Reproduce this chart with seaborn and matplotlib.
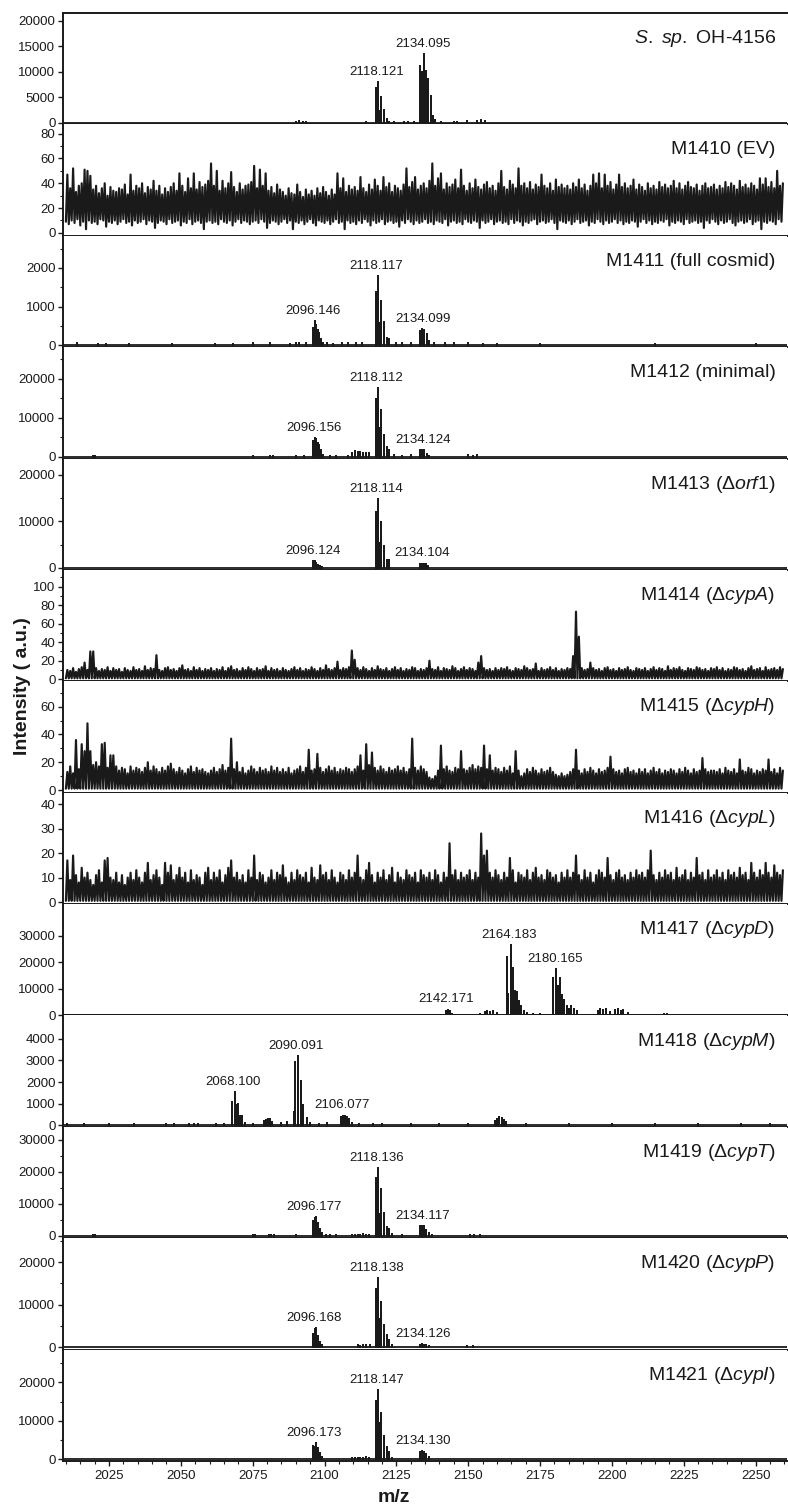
import numpy as np
import matplotlib
matplotlib.use("Agg")
import matplotlib.pyplot as plt
from matplotlib.ticker import MultipleLocator
import seaborn as sns

# ---- data (m/z, intensity) ----
sp_mz = [2090.0, 2091.0, 2092.5, 2093.5, 2114.3, 2117.8, 2118.7, 2119.1, 2119.8, 2120.8,
         2121.7, 2122.6, 2124.0, 2127.5, 2129.0, 2131.0, 2133.3, 2133.9, 2134.6, 2135.4,
         2136.1, 2136.9, 2137.7, 2138.3, 2140.5, 2145.0, 2146.0, 2149.5, 2153.0, 2154.5, 2156.0]
sp_int = [200, 300, 250, 200, 250, 6800, 8000, 2400, 5000, 2500,
          800, 250, 150, 150, 200, 250, 11200, 10000, 13500, 10200,
          8600, 5300, 1400, 500, 200, 250, 200, 300, 400, 500, 300]

m1411_mz = [2014, 2021, 2024, 2032, 2047, 2062, 2068, 2075, 2081, 2088, 2090, 2091, 2093.5,
            2095.9, 2096.6, 2097.1, 2097.7, 2098.0, 2098.8, 2099.5, 2101, 2103, 2106, 2108,
            2111, 2113, 2117.8, 2118.7, 2119.1, 2119.8, 2120.8, 2121.6, 2122.4, 2125, 2127,
            2130, 2133.3, 2133.9, 2134.7, 2135.5, 2136.3, 2138, 2142, 2145, 2150, 2155, 2160,
            2175, 2215, 2250]
m1411_int = [50, 40, 40, 30, 40, 40, 30, 50, 60, 40, 60, 50, 60,
             440, 636, 525, 395, 310, 160, 60, 50, 40, 50, 60,
             50, 70, 1385, 1790, 585, 1145, 594, 180, 170, 60, 50,
             60, 380, 430, 400, 280, 120, 60, 50, 60, 50, 40, 40,
             40, 30, 40]

m1412_mz = [2019.3, 2020.0, 2075.0, 2081.0, 2082.0, 2090.0, 2093.0, 2095.9, 2096.6, 2097.1,
            2097.7, 2098.0, 2098.8, 2099.5, 2102.0, 2104.0, 2108.0, 2109.5, 2110.5, 2111.5,
            2112.5, 2113.5, 2114.5, 2115.5, 2117.8, 2118.7, 2119.1, 2119.8, 2120.8, 2121.6,
            2122.4, 2124.0, 2127.0, 2130.0, 2133.3, 2133.9, 2134.7, 2135.5, 2136.3, 2150.0,
            2151.5, 2153.0]
m1412_int = [300, 250, 200, 250, 200, 200, 300, 4020, 4700, 4450,
             3400, 3000, 1700, 500, 200, 300, 300, 1000, 1500, 1300,
             1100, 1000, 900, 1000, 14700, 17500, 7300, 12000, 5600, 2400,
             1700, 500, 300, 500, 1700, 1800, 1700, 800, 300, 400,
             300, 400]

m1413_mz = [2095.9, 2096.6, 2097.1, 2097.7, 2098.3, 2099.0, 2117.8, 2118.7, 2119.1, 2119.8,
            2120.8, 2121.6, 2122.4, 2133.3, 2133.9, 2134.6, 2135.4, 2136.1]
m1413_int = [1400, 1400, 1000, 600, 300, 150, 12000, 14800, 5300, 9800,
             4700, 1700, 1600, 700, 900, 900, 700, 300]

m1417_mz = [2142.1, 2142.8, 2143.6, 2144.3, 2154.0, 2155.7, 2156.5, 2157.5, 2158.5, 2159.9,
            2163.5, 2164.0, 2164.8, 2165.6, 2166.2, 2166.8, 2167.5, 2168.3, 2169.3, 2170.3,
            2172.5, 2175.0, 2179.6, 2180.4, 2181.1, 2181.9, 2182.6, 2183.3, 2184.2, 2185.0,
            2185.9, 2186.8, 2187.7, 2195.0, 2196.0, 2197.0, 2198.0, 2199.5, 2201.0, 2202.0,
            2203.0, 2204.0, 2205.5, 2218.0, 2219.0]
m1417_int = [1500, 2100, 1400, 600, 500, 1300, 1700, 1200, 1400, 800,
             22200, 8000, 26600, 17800, 9000, 8900, 5200, 3300, 1500, 800,
             400, 500, 14000, 17400, 11000, 14000, 7700, 5800, 3300, 2500,
             3300, 2500, 1500, 1600, 2400, 1800, 2200, 1300, 2000, 2500,
             1500, 1800, 900, 500, 400]

m1418_mz = [2010.4, 2016.3, 2025.0, 2033.8, 2044.9, 2047.7, 2053.0, 2054.5, 2056.0, 2062.4,
            2065.0, 2067.8, 2068.7, 2069.2, 2069.9, 2070.6, 2071.3, 2072.2, 2075.0, 2079.0,
            2079.7, 2080.4, 2081.1, 2081.8, 2085.0, 2087.0, 2089.2, 2089.8, 2090.8, 2091.9,
            2092.6, 2093.8, 2095.0, 2098.0, 2101.0, 2105.8, 2106.5, 2107.2, 2107.9, 2108.6,
            2109.5, 2112.0, 2116.8, 2120.0, 2130.0, 2140.0, 2150.0, 2159.2, 2160.0, 2160.8,
            2161.6, 2162.4, 2163.3, 2170.0, 2185.0, 2200.0, 2215.0, 2230.0, 2245.0, 2255.0]
m1418_int = [60, 50, 40, 60, 50, 60, 70, 80, 60, 70,
             80, 1060, 1550, 940, 985, 430, 430, 100, 80, 200,
             250, 300, 280, 150, 100, 150, 600, 2940, 3200, 2060,
             940, 320, 120, 80, 90, 400, 450, 430, 400, 300,
             100, 80, 80, 60, 50, 60, 50, 200, 300, 400,
             350, 250, 150, 60, 50, 60, 50, 60, 50, 60]

m1419_mz = [2019.5, 2020.2, 2075.0, 2075.7, 2080.5, 2081.5, 2082.5, 2090.0, 2095.9, 2096.6,
            2097.1, 2097.7, 2098.3, 2099.0, 2100.5, 2102.0, 2104.0, 2109.5, 2110.5, 2111.5,
            2112.5, 2113.5, 2114.5, 2115.5, 2117.8, 2118.7, 2119.1, 2119.8, 2120.8, 2121.6,
            2122.4, 2123.5, 2127.0, 2133.3, 2133.9, 2134.6, 2135.4, 2136.2, 2137.5, 2150.5,
            2152.0, 2154.0]
m1419_int = [300, 250, 300, 250, 300, 250, 300, 200, 4800, 5700,
             5800, 4000, 2100, 1000, 400, 300, 300, 300, 400, 350,
             400, 500, 300, 400, 18000, 21200, 7000, 14600, 7100, 2900,
             2200, 500, 300, 3000, 3200, 3100, 2000, 900, 400, 300,
             250, 300]

m1420_mz = [2095.9, 2096.6, 2097.1, 2097.7, 2098.3, 2099.2, 2111.5, 2112.5, 2113.5, 2114.5,
            2115.7, 2117.8, 2118.7, 2119.1, 2119.8, 2120.8, 2121.6, 2122.4, 2123.5, 2133.3,
            2133.9, 2134.6, 2135.4, 2136.2, 2149.5, 2151.5]
m1420_int = [3200, 4200, 4400, 2700, 1250, 400, 400, 350, 400, 400,
             500, 13600, 16200, 6600, 10600, 5200, 2800, 1650, 400, 500,
             700, 600, 500, 300, 300, 300]

m1421_mz = [2095.9, 2096.6, 2097.1, 2097.7, 2098.3, 2099.0, 2109.5, 2110.5, 2111.5, 2112.5,
            2113.5, 2114.5, 2115.5, 2117.8, 2118.7, 2119.1, 2119.8, 2120.8, 2121.6, 2122.4,
            2123.5, 2133.3, 2133.9, 2134.6, 2135.4, 2136.2]
m1421_int = [3450, 3200, 4150, 2850, 1550, 500, 300, 400, 350, 300,
             400, 500, 300, 15200, 18000, 9300, 12100, 6050, 3270, 2000,
             400, 1900, 2100, 2000, 1400, 600]

# noise-only traces: local max / min per 1 m/z bin starting at 2010
NOISE_START = 2010
ev_tops = [
    47, 36, 52, 33, 38, 40, 51, 50, 46, 35, 38, 32, 36, 40, 30, 37, 34, 33, 36, 35, 39, 31, 47, 34, 38,
    36, 40, 32, 37, 35, 42, 34, 38, 31, 36, 33, 37, 40, 34, 48, 38, 33, 44, 36, 48, 35, 41, 37, 39, 42,
    56, 38, 50, 34, 42, 36, 40, 49, 37, 33, 40, 35, 38, 39, 41, 54, 36, 51, 38, 48, 34, 37, 32, 39, 35,
    33, 30, 36, 32, 31, 39, 33, 29, 35, 31, 34, 30, 36, 32, 37, 33, 30, 35, 31, 48, 36, 44, 33, 38, 35,
    37, 34, 45, 36, 33, 39, 35, 43, 38, 34, 45, 37, 40, 33, 38, 36, 34, 39, 52, 37, 41, 45, 35, 38, 40,
    36, 42, 56, 38, 44, 48, 35, 40, 37, 39, 43, 36, 51, 38, 34, 40, 36, 43, 37, 35, 39, 41, 36, 38, 34,
    40, 50, 37, 35, 42, 39, 36, 52, 38, 40, 36, 41, 35, 39, 37, 47, 38, 36, 40, 34, 43, 37, 39, 36, 38,
    35, 40, 37, 43, 36, 39, 34, 38, 47, 40, 48, 36, 47, 38, 41, 35, 39, 47, 37, 40, 36, 38, 43, 35, 39,
    37, 34, 40, 36, 38, 35, 41, 37, 39, 36, 38, 42, 36, 40, 35, 38, 41, 37, 36, 39, 34, 38, 40, 36, 37,
    39, 35, 38, 36, 41, 37, 40, 38, 35, 42, 37, 39, 36, 40, 38, 35, 44, 39, 44, 37, 41, 36, 50, 38, 40]
ev_lows = [
    9, 7, 10, 8, 11, 6, 9, 3, 10, 8, 9, 7, 11, 10, 5, 9, 8, 10, 7, 9, 11, 8, 9, 6, 10,
    8, 9, 11, 7, 10, 9, 4, 8, 10, 9, 7, 11, 8, 9, 10, 6, 9, 8, 11, 7, 9, 10, 8, 3, 9,
    10, 8, 9, 7, 11, 9, 8, 10, 6, 9, 11, 8, 10, 9, 7, 9, 10, 8, 11, 9, 4, 8, 10, 9, 7,
    9, 11, 8, 10, 3, 9, 8, 10, 7, 9, 11, 8, 6, 10, 9, 8, 10, 7, 9, 11, 8, 9, 3, 10, 8,
    9, 7, 10, 8, 11, 9, 6, 10, 8, 9, 11, 7, 9, 10, 8, 9, 5, 10, 8, 11, 9, 7, 10, 8, 9,
    11, 8, 9, 7, 10, 9, 8, 11, 6, 9, 10, 8, 9, 7, 11, 9, 8, 10, 9, 4, 10, 8, 9, 11, 7,
    9, 10, 8, 9, 7, 11, 8, 10, 9, 6, 9, 8, 10, 11, 7, 9, 10, 8, 9, 11, 8, 3, 10, 9, 8,
    10, 7, 9, 11, 8, 9, 10, 6, 9, 8, 11, 9, 7, 10, 8, 9, 11, 8, 10, 7, 9, 8, 10, 9, 5,
    9, 11, 8, 10, 7, 9, 8, 10, 9, 11, 6, 9, 8, 10, 9, 7, 11, 8, 9, 10, 8, 9, 4, 10, 8,
    11, 9, 7, 10, 8, 9, 11, 8, 6, 9, 10, 8, 9, 11, 7, 9, 10, 3, 9, 8, 10, 9, 7, 11, 9]

m1414_tops = [
    10, 9, 12, 8, 11, 13, 18, 10, 30, 30, 12, 9, 11, 10, 13, 9, 12, 10, 11, 8, 12, 10, 9, 13, 10,
    11, 9, 14, 10, 12, 11, 26, 10, 9, 12, 13, 10, 11, 9, 12, 15, 10, 11, 9, 13, 10, 12, 9, 11, 10,
    12, 9, 11, 10, 13, 9, 12, 14, 10, 11, 9, 12, 10, 13, 11, 9, 12, 10, 11, 14, 9, 12, 10, 11, 9,
    12, 10, 9, 11, 13, 10, 12, 9, 11, 10, 13, 11, 9, 12, 10, 15, 11, 10, 12, 19, 10, 12, 11, 13, 31,
    21, 12, 10, 13, 11, 9, 12, 10, 14, 11, 10, 12, 9, 11, 13, 10, 12, 9, 11, 10, 13, 12, 9, 11, 10,
    12, 20, 11, 10, 13, 9, 12, 11, 10, 14, 12, 9, 11, 13, 10, 12, 11, 9, 18, 25, 12, 10, 11, 9, 12,
    10, 12, 11, 13, 10, 9, 12, 11, 10, 14, 12, 10, 11, 17, 9, 12, 10, 11, 13, 10, 12, 9, 11, 10, 12,
    11, 25, 73, 46, 12, 10, 11, 18, 12, 10, 11, 9, 12, 13, 10, 11, 9, 12, 10, 11, 13, 10, 9, 12, 11,
    10, 12, 9, 11, 13, 10, 12, 11, 9, 14, 10, 12, 11, 13, 10, 9, 12, 11, 10, 13, 12, 10, 11, 9, 12,
    11, 13, 10, 12, 9, 11, 10, 13, 12, 10, 11, 9, 12, 14, 10, 11, 12, 9, 13, 10, 11, 12, 10, 13, 11]
m1414_floor = 1

m1415_tops = [
    13, 17, 12, 36, 15, 33, 28, 48, 28, 18, 20, 17, 33, 34, 16, 25, 25, 17, 14, 16, 15, 12, 17, 14, 16,
    15, 13, 16, 20, 14, 17, 15, 13, 16, 14, 17, 19, 15, 13, 16, 14, 12, 15, 17, 13, 16, 14, 15, 13, 12,
    14, 16, 13, 15, 18, 14, 16, 37, 15, 20, 13, 16, 12, 14, 17, 15, 13, 16, 14, 15, 13, 17, 14, 16, 13,
    15, 13, 16, 12, 14, 15, 17, 13, 16, 29, 14, 15, 26, 16, 13, 15, 17, 14, 16, 13, 15, 14, 16, 15, 13,
    15, 17, 25, 14, 33, 18, 27, 16, 14, 17, 15, 13, 16, 14, 15, 17, 14, 16, 13, 15, 37, 16, 14, 17, 15,
    13, 9, 8, 10, 14, 32, 15, 17, 14, 13, 16, 15, 28, 15, 14, 16, 18, 15, 17, 16, 32, 15, 25, 14, 16,
    15, 13, 16, 14, 17, 12, 28, 14, 10, 12, 15, 13, 16, 14, 12, 15, 13, 14, 16, 13, 11, 10, 12, 10, 11,
    13, 15, 29, 14, 12, 15, 13, 16, 14, 12, 15, 13, 14, 16, 24, 15, 13, 14, 12, 15, 16, 13, 14, 12, 15,
    13, 15, 12, 14, 16, 13, 15, 12, 14, 13, 15, 14, 12, 15, 13, 16, 14, 12, 15, 13, 14, 23, 15, 13, 14,
    14, 13, 15, 12, 16, 14, 13, 15, 12, 22, 14, 13, 16, 15, 12, 14, 13, 15, 14, 22, 13, 15, 12, 16, 14]
m1415_floor = 1

m1416_tops = [
    17, 9, 19, 11, 8, 14, 10, 12, 9, 7, 11, 13, 8, 17, 18, 10, 9, 12, 8, 11, 7, 10, 12, 9, 13,
    10, 8, 12, 16, 9, 11, 13, 10, 7, 16, 12, 15, 9, 11, 14, 10, 12, 8, 13, 9, 11, 10, 7, 12, 14,
    9, 12, 10, 13, 8, 11, 14, 17, 10, 12, 9, 11, 8, 13, 10, 19, 9, 12, 11, 8, 10, 13, 9, 12, 11,
    15, 10, 8, 12, 9, 13, 11, 10, 12, 8, 14, 10, 9, 15, 11, 12, 9, 13, 10, 8, 12, 11, 9, 13, 10,
    12, 19, 10, 9, 13, 16, 11, 8, 12, 10, 13, 9, 11, 14, 8, 12, 10, 9, 13, 11, 10, 12, 8, 13, 11,
    10, 12, 9, 13, 11, 8, 12, 10, 24, 11, 13, 9, 12, 10, 11, 13, 9, 12, 10, 28, 19, 21, 12, 10, 13,
    11, 9, 12, 10, 18, 13, 8, 12, 11, 10, 13, 9, 12, 14, 10, 11, 9, 13, 12, 10, 11, 8, 12, 10, 13,
    10, 12, 19, 11, 9, 13, 10, 12, 8, 11, 13, 12, 10, 18, 11, 9, 12, 13, 10, 11, 9, 12, 10, 13, 11,
    12, 10, 13, 21, 11, 9, 12, 10, 13, 11, 12, 9, 14, 10, 11, 13, 9, 12, 10, 18, 11, 12, 9, 13, 10,
    11, 13, 10, 12, 9, 13, 11, 12, 10, 14, 11, 12, 9, 16, 12, 10, 13, 11, 16, 12, 10, 15, 12, 11, 13]
m1416_floor = 0.5

# panel titles and peak labels
titles = [r"$\it{S.\ sp.}$ OH-4156", "M1410 (EV)", "M1411 (full cosmid)", "M1412 (minimal)",
          "M1413 (Δ$\it{orf1}$)", "M1414 (Δ$\it{cypA}$)", "M1415 (Δ$\it{cypH}$)",
          "M1416 (Δ$\it{cypL}$)", "M1417 (Δ$\it{cypD}$)", "M1418 (Δ$\it{cypM}$)",
          "M1419 (Δ$\it{cypT}$)", "M1420 (Δ$\it{cypP}$)", "M1421 (Δ$\it{cypI}$)"]
peak_labels = [
    ["2118.121", "2134.095"],
    [],
    ["2096.146", "2118.117", "2134.099"],
    ["2096.156", "2118.112", "2134.124"],
    ["2096.124", "2118.114", "2134.104"],
    [], [], [],
    ["2142.171", "2164.183", "2180.165"],
    ["2068.100", "2090.091", "2106.077"],
    ["2096.177", "2118.136", "2134.117"],
    ["2096.168", "2118.138", "2134.126"],
    ["2096.173", "2118.147", "2134.130"],
]

# ---- axis setup per panel ----
spectra = [("stick", sp_mz, sp_int), ("noise", ev_tops, ev_lows),
           ("stick", m1411_mz, m1411_int), ("stick", m1412_mz, m1412_int),
           ("stick", m1413_mz, m1413_int), ("noise", m1414_tops, m1414_floor),
           ("noise", m1415_tops, m1415_floor), ("noise", m1416_tops, m1416_floor),
           ("stick", m1417_mz, m1417_int), ("stick", m1418_mz, m1418_int),
           ("stick", m1419_mz, m1419_int), ("stick", m1420_mz, m1420_int),
           ("stick", m1421_mz, m1421_int)]
ylims = [(-300, 21500), (-2.3, 87.5), (-47, 2833), (-460, 28100), (-475, 23560),
         (-2.2, 118.1), (-1.9, 78.3), (-0.8, 44.65), (-100, 42100), (-69, 5076),
         (-690, 34125), (-590, 25690), (-440, 28520)]
major_steps = [5000, 20, 1000, 10000, 10000, 20, 20, 10, 10000, 1000, 10000, 10000, 10000]
minor_steps = [None, 10, 500, 5000, 5000, 10, 10, None, None, None, 5000, 5000, 5000]
label_maxes = [20000, 80, 2000, 20000, 20000, 100, 60, 40, 30000, 4000, 30000, 20000, 20000]

XMIN, XMAX = 2009, 2261
INK = "#1a1a1a"


def stick_trace(mz, inten):
    xs, ys = [XMIN], [0]
    for m, h in sorted(zip(mz, inten)):
        xs += [m, m, m]
        ys += [0, h, 0]
    xs.append(XMAX)
    ys.append(0)
    return xs, ys


def noise_trace(tops, lows):
    if np.isscalar(lows):
        lows = [lows] * len(tops)
    xs, ys = [], []
    for i, (t, lo) in enumerate(zip(tops, lows)):
        xs += [NOISE_START + i, NOISE_START + i + 0.5]
        ys += [lo, t]
    return xs, ys


sns.set_theme(style="ticks")
plt.rcParams["font.family"] = ["Liberation Sans", "DejaVu Sans"]
plt.rcParams["mathtext.fontset"] = "custom"
plt.rcParams["mathtext.rm"] = "Liberation Sans"
plt.rcParams["mathtext.it"] = "Liberation Sans:italic"
plt.rcParams["axes.edgecolor"] = INK
plt.rcParams["text.color"] = INK
plt.rcParams["xtick.color"] = INK
plt.rcParams["ytick.color"] = INK

fig, axes = plt.subplots(13, 1, figsize=(7.88, 15.08), dpi=100, sharex=True,
                         gridspec_kw=dict(hspace=0))
fig.subplots_adjust(left=0.080, right=0.999, top=0.9914, bottom=0.0312)

for i, ax in enumerate(axes):
    kind, a, b = spectra[i]
    if kind == "stick":
        xs, ys = stick_trace(a, b)
        lw = 1.3
    else:
        xs, ys = noise_trace(a, b)
        lw = 1.55
    sns.lineplot(x=xs, y=ys, estimator=None, sort=False, color=INK,
                 linewidth=lw, ax=ax)

    ax.set_xlim(XMIN, XMAX)
    ax.set_ylim(*ylims[i])
    ax.set_yticks(np.arange(0, label_maxes[i] + 1, major_steps[i]))
    if minor_steps[i]:
        ax.yaxis.set_minor_locator(MultipleLocator(minor_steps[i]))
    ax.set_ylabel("")
    ax.tick_params(axis="y", which="major", direction="out", length=3.5,
                   width=1, labelsize=9.5, pad=2)
    ax.tick_params(axis="y", which="minor", direction="out", length=2, width=0.8)
    ax.spines["right"].set_visible(False)
    ax.spines["top"].set_visible(i == 0)
    for s in ["left", "bottom", "top"]:
        ax.spines[s].set_linewidth(1.4)

    ax.text(0.984, 0.77, titles[i], transform=ax.transAxes, ha="right",
            va="center", fontsize=14)

    # peak labels just above the local maximum
    if kind == "stick":
        mz_arr = np.asarray(a)
        int_arr = np.asarray(b)
        for lab in peak_labels[i]:
            x0 = float(lab)
            near = (mz_arr > x0 - 1.5) & (mz_arr < x0 + 2.0)
            top = int_arr[near].max()
            ax.annotate(lab, xy=(x0, top), xytext=(0, 3), textcoords="offset points",
                        ha="center", va="bottom", fontsize=9.5)

    if i < len(axes) - 1:
        ax.tick_params(axis="x", which="both", bottom=False, labelbottom=False)

last = axes[-1]
last.set_xticks(np.arange(2025, 2251, 25))
last.xaxis.set_minor_locator(MultipleLocator(5))
last.tick_params(axis="x", which="major", direction="out", length=3.5, width=1,
                 labelsize=9.5, pad=3)
last.tick_params(axis="x", which="minor", direction="out", length=2, width=0.8)
last.set_xlabel("")

fig.text(0.5, 0.007, "m/z", ha="center", va="center", fontsize=14, fontweight="bold")
fig.text(0.028, 0.545, "Intensity ( a.u.)", rotation=90, ha="center", va="center",
         fontsize=14, fontweight="bold")

fig.savefig("out.png", dpi=100)
